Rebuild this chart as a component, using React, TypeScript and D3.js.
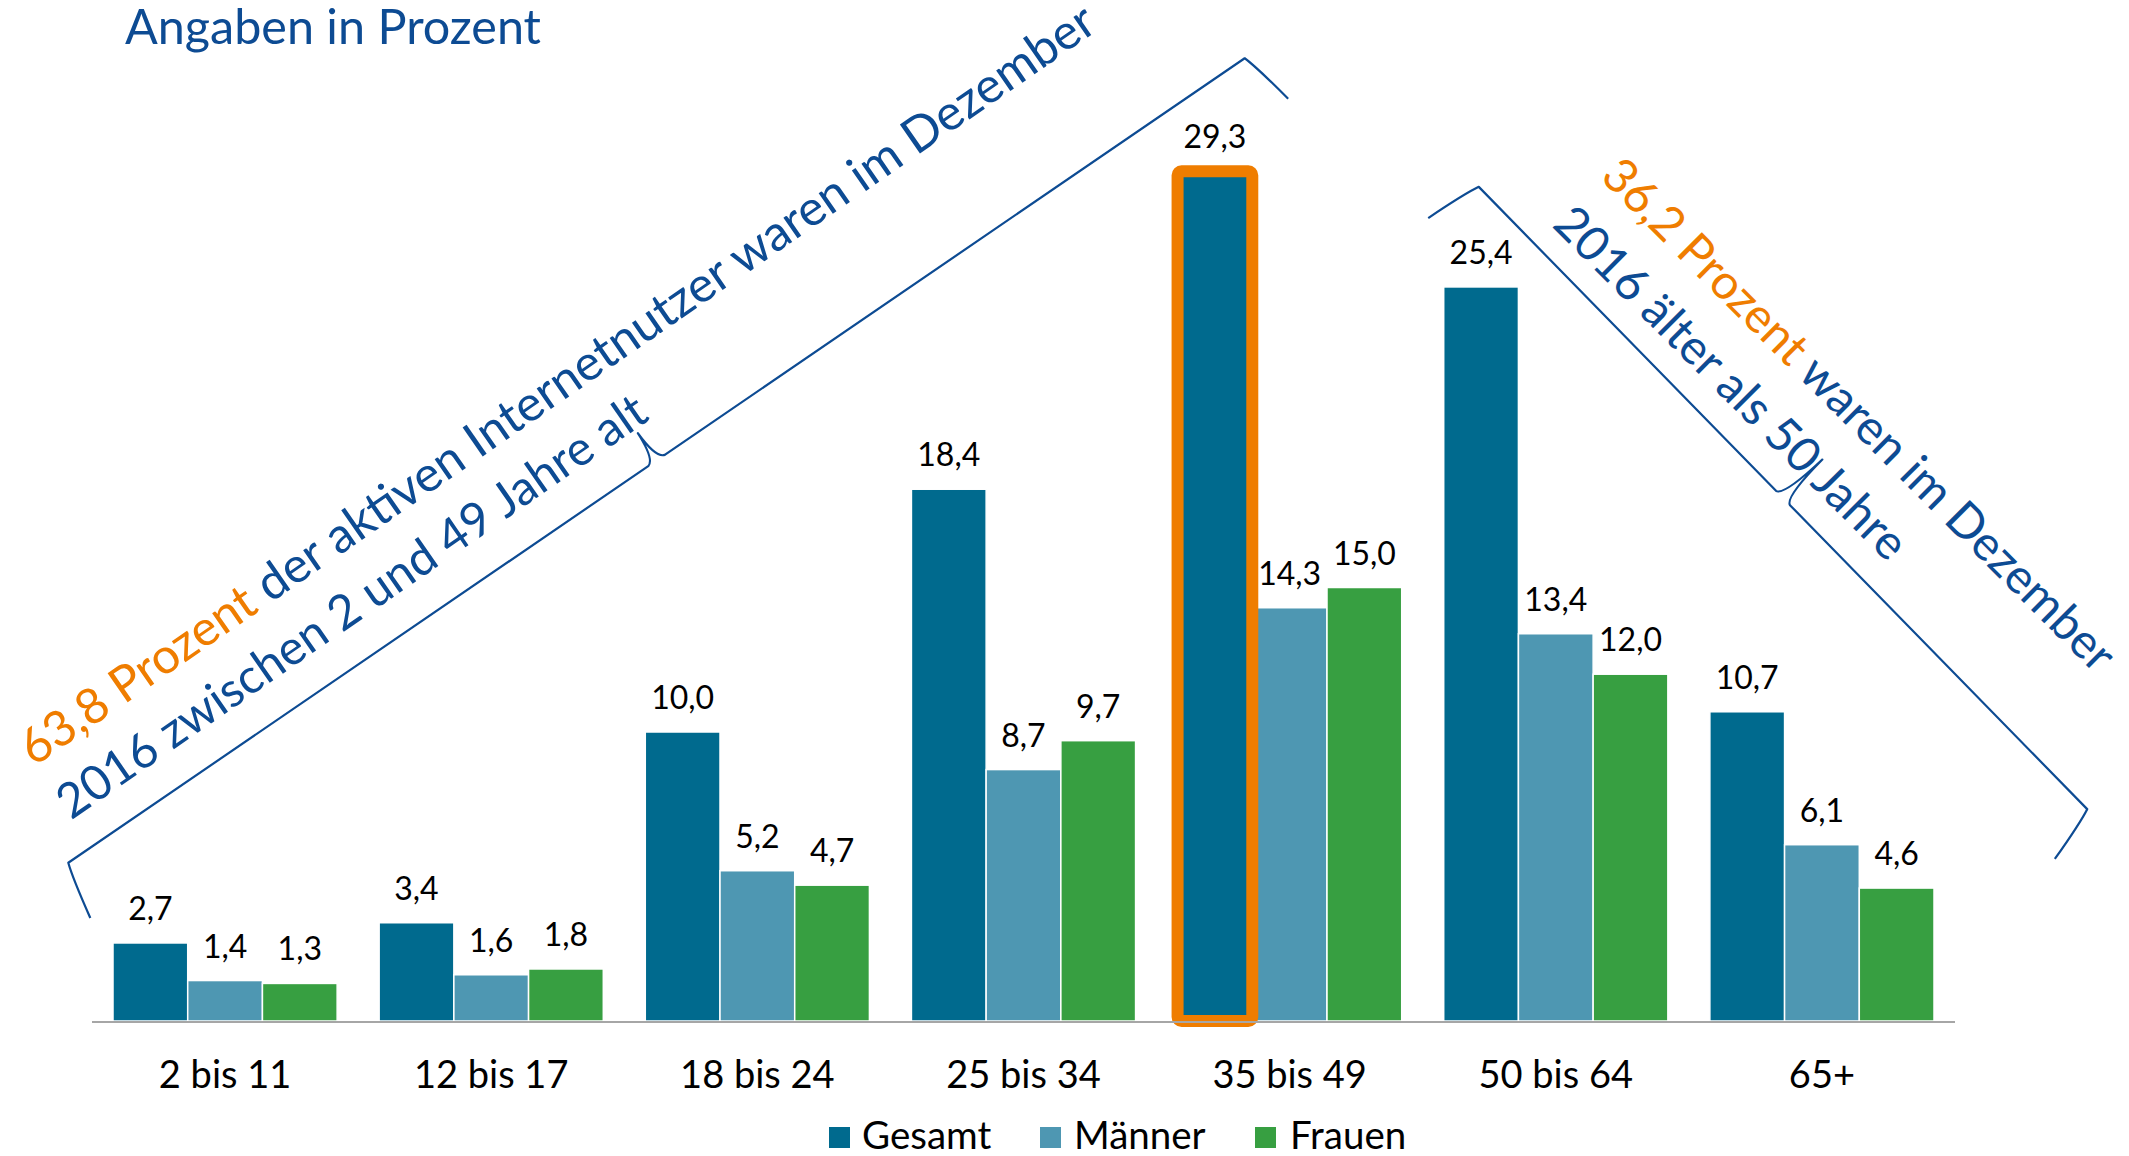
import React from "react";
import * as d3 from "d3";

// ---------- data ----------
const categories = ["2 bis 11", "12 bis 17", "18 bis 24", "25 bis 34", "35 bis 49", "50 bis 64", "65+"];
const seriesNames = ["Gesamt", "Männer", "Frauen"];
const gesamt = [2.7, 3.4, 10.0, 18.4, 29.3, 25.4, 10.7];
const maenner = [1.4, 1.6, 5.2, 8.7, 14.3, 13.4, 6.1];
const frauen = [1.3, 1.8, 4.7, 9.7, 15.0, 12.0, 4.6];
const highlightCategory = "35 bis 49";
const titleText = "Angaben in Prozent";
const leftNote = { pct: "63,8 Prozent", rest: " der aktiven Internetnutzer waren im Dezember", line2: "2016 zwischen 2 und 49 Jahre alt" };
const rightNote = { pct: "36,2 Prozent", rest: " waren im Dezember", line2: "2016 älter als 50 Jahre" };

// ---------- layout / style ----------
const W = 2129;
const H = 1156;
const FONT = "Lato, 'Open Sans', sans-serif";
const COLORS = ["#006A8E", "#4E97B2", "#379F41"];
const ORANGE = "#EF7D00";
const BLUE = "#0D4B93";
const plot = { left: 92, right: 1955, base: 1021, perUnit: 28.9 };
const legendLayout = [
  { sq: 829, tx: 862 },
  { sq: 1040, tx: 1074 },
  { sq: 1255, tx: 1290 },
];

const seriesValues = [gesamt, maenner, frauen];
const fmt = (v: number) => d3.format(".1f")(v).replace(".", ",");

function bracePath(L: number, c: number, h = 58, o = 9, g = 10) {
  const m = L / 2;
  return `M ${-o},${h} Q ${-1},${h * 0.25} ${4},0 L ${m - g},0 Q ${m - 1},${-2} ${m},${-c} Q ${m + 1},${-2} ${m + g},0 L ${L - 4},0 Q ${L + 1},${h * 0.25} ${L + o},${h}`;
}

function Brace({ p0, p1, c }: { p0: [number, number]; p1: [number, number]; c: number }) {
  const dx = p1[0] - p0[0];
  const dy = p1[1] - p0[1];
  const L = Math.hypot(dx, dy);
  const ang = (Math.atan2(dy, dx) * 180) / Math.PI;
  return (
    <path
      transform={`translate(${p0[0]},${p0[1]}) rotate(${ang})`}
      d={bracePath(L, c)}
      fill="none"
      stroke={BLUE}
      strokeWidth={2.2}
      strokeLinejoin="round"
    />
  );
}

export default function App() {
  const x0 = d3.scaleBand<string>().domain(categories).range([plot.left, plot.right]).paddingInner(0).paddingOuter(0);
  const groupPad = 21;
  const x1 = d3.scaleBand<string>().domain(seriesNames).range([groupPad, x0.bandwidth() - groupPad]).padding(0);
  const y = d3.scaleLinear().domain([0, 30]).range([plot.base, plot.base - 30 * plot.perUnit]);

  const bars: any[] = [];
  categories.forEach((cat, ci) => {
    seriesNames.forEach((s, si) => {
      const v = seriesValues[si][ci];
      bars.push({ cat, s, si, v, x: (x0(cat) as number) + (x1(s) as number), w: x1.bandwidth(), top: y(v) });
    });
  });

  const hl = bars.find((b) => b.cat === highlightCategory && b.si === 0);

  return (
    <div style={{ position: "absolute", left: 0, top: 0 }}>
      <svg width={W} height={H} style={{ display: "block", background: "#fff" }} fontFamily={FONT}>
        {/* title */}
        <text x={125} y={44} fontSize={48.5} fill={BLUE}>
          {titleText}
        </text>

        {/* bars */}
        {bars.map((b, i) => (
          <rect
            key={i}
            x={b.x}
            y={b.top}
            width={b.w}
            height={plot.base - b.top}
            fill={COLORS[b.si]}
            stroke="#fff"
            strokeWidth={1.5}
          />
        ))}

        {/* highlight */}
        {hl && (
          <rect
            x={hl.x}
            y={hl.top - 3}
            width={hl.w}
            height={plot.base - hl.top + 3}
            fill="none"
            stroke={ORANGE}
            strokeWidth={12}
            rx={4}
          />
        )}

        {/* axis line */}
        <line x1={plot.left} x2={plot.right} y1={plot.base + 1} y2={plot.base + 1} stroke="#A6A6A6" strokeWidth={2} />

        {/* value labels */}
        {bars.map((b, i) => (
          <text
            key={"v" + i}
            x={b.x + b.w / 2}
            y={b.top - (b === hl ? 26 : 23)}
            fontSize={32}
            textAnchor="middle"
            fill="#000"
          >
            {fmt(b.v)}
          </text>
        ))}

        {/* category labels */}
        {categories.map((c) => (
          <text
            key={c}
            x={(x0(c) as number) + x0.bandwidth() / 2}
            y={1088}
            fontSize={38}
            textAnchor="middle"
            fill="#000"
          >
            {c}
          </text>
        ))}

        {/* legend */}
        {seriesNames.map((s, i) => (
          <g key={s}>
            <rect x={legendLayout[i].sq} y={1127} width={21} height={21} fill={COLORS[i]} />
            <text x={legendLayout[i].tx} y={1149} fontSize={38.5} fill="#000">
              {s}
            </text>
          </g>
        ))}

        {/* braces */}
        <Brace p0={[65, 865]} p1={[1248, 56]} c={33} />
        <Brace p0={[1476, 184]} p1={[2090, 812]} c={55} />

        {/* left annotation */}
        <g transform="translate(34,767) rotate(-34.7)">
          <text x={0} y={0} fontSize={49.2}>
            <tspan fill={ORANGE}>{leftNote.pct}</tspan>
            <tspan fill={BLUE}>{leftNote.rest}</tspan>
          </text>
          <text x={0} y={65} fill={BLUE} fontSize={48}>
            {leftNote.line2}
          </text>
        </g>

        {/* right annotation */}
        <g transform="translate(1599,178) rotate(45)" fontSize={48}>
          <text x={0} y={0}>
            <tspan fill={ORANGE}>{rightNote.pct}</tspan>
            <tspan fill={BLUE}>{rightNote.rest}</tspan>
          </text>
          <text x={0} y={68} fill={BLUE}>
            {rightNote.line2}
          </text>
        </g>
      </svg>
    </div>
  );
}
